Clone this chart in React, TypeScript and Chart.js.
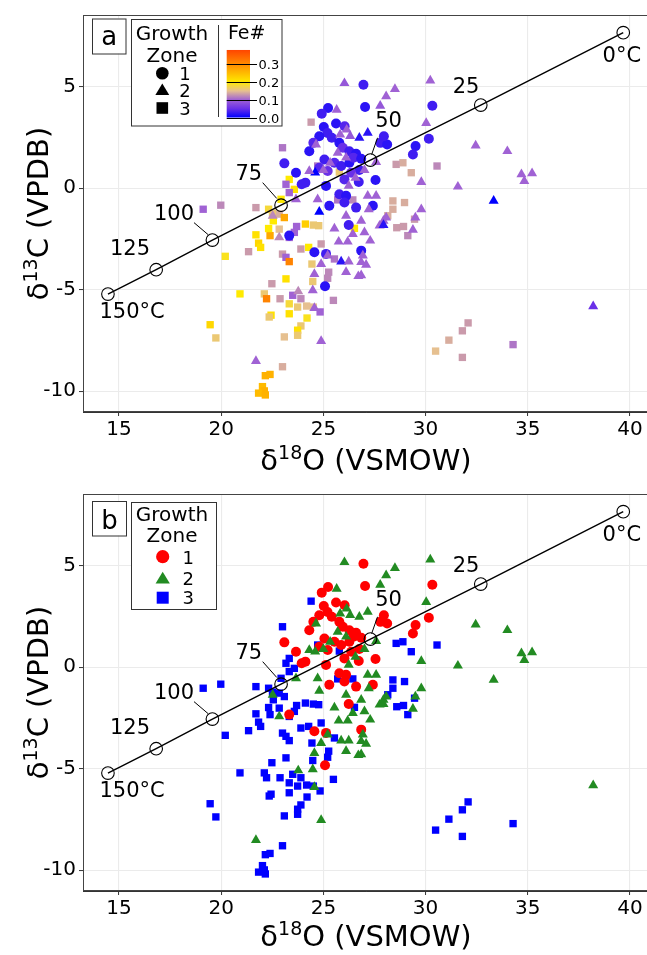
import React, { useEffect, useRef } from 'react';
import { Chart, registerables } from 'chart.js';
Chart.register(...registerables);

// ---------- axes ----------
const xTickValues = [15, 20, 25, 30, 35, 40];
const xTickLabels = ['15', '20', '25', '30', '35', '40'];
const yTickValues = [-10, -5, 0, 5];
const yTickLabels = ['-10', '-5', '0', '5'];
const X_MIN = 13.24, X_MAX = 40.93, Y_MIN = -11.03, Y_MAX = 8.53;

// ---------- equilibrium temperature line ----------
const tempX = [39.67, 32.7, 27.3, 22.93, 19.57, 16.82, 14.46];
const tempY = [7.66, 4.09, 1.38, -0.84, -2.56, -4.02, -5.22];
const tempLabels = ['0°C', '25', '50', '75', '100', '125', '150°C'];
const tempLabelX = [39.6, 31.98, 28.19, 21.35, 17.69, 15.54, 15.64];
const tempLabelY = [6.5, 4.96, 3.29, 0.68, -1.29, -3.04, -6.13];

// ---------- Growth zone 1 (circles) ----------
const zone1X = [26.96, 27.04, 30.33, 25.23, 24.92, 25.62, 26.04, 25.02, 25.2, 24.8, 24.51, 25.41, 25.78, 25.95, 26.27, 26.6, 27.79, 28.12, 27.96, 29.51, 29.38, 24.31, 23.09, 23.66, 24.12, 24.8, 25.05, 25.21, 25.13, 25.54, 25.87, 26.27, 26.47, 26.85, 26.76, 26.36, 26.73, 27.55, 26.03, 25.78, 26.11, 26.03, 25.29, 26.6, 27.42, 26.24, 23.33, 24.56, 25.13, 26.85, 25.08, 30.16, 23.94];
const zone1Y = [5.09, 4.0, 4.06, 3.95, 3.67, 3.18, 3.05, 3.01, 2.72, 2.56, 2.23, 2.48, 2.23, 1.99, 1.82, 1.69, 2.23, 2.15, 2.56, 2.07, 1.66, 1.82, 1.22, 0.76, 0.27, 1.0, 1.41, 0.84, 0.11, 1.25, 1.09, 1.25, 1.5, 1.45, 0.89, 0.76, 0.3, 0.4, 0.43, -0.3, -0.38, -0.71, -0.87, -0.96, -0.87, -1.82, -2.34, -3.16, -3.24, -3.08, -4.83, 2.43, 0.19];
const zone1Fe = [0.03, 0.02, 0.03, 0.02, 0.03, 0.02, 0.04, 0.02, 0.03, 0.02, 0.04, 0.03, 0.02, 0.05, 0.03, 0.02, 0.03, 0.02, 0.03, 0.02, 0.03, 0.02, 0.03, 0.02, 0.03, 0.04, 0.03, 0.05, 0.02, 0.04, 0.03, 0.02, 0.04, 0.02, 0.03, 0.05, 0.03, 0.02, 0.04, 0.03, 0.02, 0.03, 0.02, 0.03, 0.02, 0.03, 0.02, 0.02, 0.03, 0.02, 0.02, 0.03, 0.03];

// ---------- Growth zone 2 (triangles) ----------
const zone2X = [26.03, 28.5, 28.07, 27.78, 25.65, 30.03, 30.23, 26.14, 25.82, 26.31, 26.76, 27.17, 24.64, 25.7, 26.11, 25.33, 24.6, 24.31, 26.57, 27.01, 27.58, 29.79, 23.66, 24.72, 26.24, 27.17, 27.22, 28.07, 29.79, 29.5, 22.52, 22.84, 24.8, 25.54, 26.11, 26.85, 26.44, 25.75, 26.19, 27.29, 27.01, 24.89, 25.21, 25.87, 26.24, 26.85, 27.09, 26.11, 26.71, 24.56, 24.48, 23.77, 24.56, 24.89, 27.75, 21.7, 32.45, 34.0, 34.69, 35.21, 34.83, 31.58, 33.33, 27.58, 29.38, 27.94, 27.94, 26.93, 26.85, 38.2, 25.0];
const zone2Y = [5.17, 4.88, 4.52, 4.06, 3.86, 3.21, 5.3, 2.88, 2.64, 2.56, 2.48, 2.72, 2.15, 1.74, 1.5, 1.25, 0.76, 0.84, 0.51, 0.89, 1.28, 0.3, -0.55, -0.55, 0.11, -0.38, -1.04, -1.45, -1.04, -1.45, -1.36, -2.43, -1.17, -1.99, -1.36, -1.61, -2.26, -2.64, -2.64, -2.59, -2.18, -3.74, -3.32, -3.62, -3.62, -3.65, -3.78, -4.14, -4.34, -4.23, -5.04, -5.09, -5.91, -7.54, -1.85, -8.52, 2.1, 1.82, 0.68, 0.73, 0.35, 0.07, -0.63, -0.38, -2.05, -1.61, -1.82, -3.32, -4.3, -5.82, 0.89];
const zone2Fe = [0.09, 0.1, 0.1, 0.09, 0.1, 0.1, 0.1, 0.1, 0.1, 0.09, 0.02, 0.02, 0.1, 0.1, 0.1, 0.1, 0.0, 0.1, 0.1, 0.1, 0.1, 0.1, 0.1, 0.1, 0.1, 0.1, 0.1, 0.1, 0.1, 0.1, 0.12, 0.12, 0.0, 0.1, 0.1, 0.1, 0.1, 0.1, 0.1, 0.1, 0.1, 0.1, 0.1, 0.02, 0.1, 0.1, 0.1, 0.1, 0.1, 0.1, 0.1, 0.12, 0.1, 0.1, 0.1, 0.1, 0.1, 0.1, 0.1, 0.1, 0.1, 0.1, 0.0, 0.1, 0.1, 0.1, 0.02, 0.1, 0.1, 0.05, 0.1];

// ---------- Growth zone 3 (squares) ----------
const zone3X = [24.4, 23.0, 28.89, 28.56, 29.3, 30.56, 24.72, 25.78, 23.33, 23.17, 23.58, 23.33, 22.93, 21.7, 22.32, 22.84, 23.09, 25.7, 26.44, 28.4, 28.97, 28.4, 19.12, 19.98, 22.55, 22.39, 21.7, 22.32, 22.84, 23.33, 23.58, 23.69, 24.12, 24.51, 24.77, 21.83, 21.93, 21.34, 20.2, 23.0, 23.17, 23.33, 23.9, 24.28, 24.89, 24.44, 25.54, 25.26, 25.21, 24.48, 23.17, 22.48, 20.92, 22.11, 22.22, 22.88, 23.5, 23.9, 23.33, 23.74, 24.18, 25.49, 24.84, 23.33, 22.44, 22.35, 24.2, 23.9, 23.74, 23.74, 23.09, 19.46, 19.74, 23.0, 22.16, 22.39, 22.02, 22.11, 21.83, 22.16, 32.08, 31.8, 31.14, 30.49, 31.8, 34.28, 28.59, 28.92, 29.13, 29.46, 28.15, 26.52, 24.51, 22.51];
const zone3Y = [3.25, 1.99, 1.25, 1.17, 0.76, 1.09, 1.09, 0.79, 0.43, 0.19, -0.06, -0.22, -0.55, -0.96, -1.04, -1.28, -1.45, -0.58, -0.58, -0.63, -0.71, -1.04, -1.04, -0.84, -1.61, -2.34, -2.3, -1.99, -2.02, -2.43, -2.18, -1.89, -1.77, -1.82, -1.85, -2.71, -2.92, -3.13, -3.36, -3.25, -3.41, -3.62, -3.0, -2.92, -2.75, -3.74, -3.49, -4.14, -4.44, -4.6, -4.47, -4.71, -5.21, -5.21, -5.45, -5.45, -5.28, -5.45, -5.7, -5.86, -5.81, -5.53, -6.1, -6.19, -6.26, -6.35, -6.4, -6.79, -7.0, -7.25, -7.33, -6.73, -7.38, -8.8, -9.24, -9.18, -9.78, -9.99, -10.1, -10.19, -6.64, -7.03, -7.49, -8.03, -8.34, -7.71, -1.95, -1.89, -2.34, -1.53, -1.36, -1.98, -5.86, -1.23];
const zone3Fe = [0.13, 0.11, 0.14, 0.13, 0.14, 0.12, 0.11, 0.16, 0.2, 0.1, 0.21, 0.1, 0.2, 0.13, 0.18, 0.14, 0.27, 0.11, 0.12, 0.14, 0.14, 0.14, 0.1, 0.12, 0.2, 0.27, 0.21, 0.2, 0.15, 0.1, 0.1, 0.1, 0.23, 0.16, 0.16, 0.22, 0.21, 0.13, 0.19, 0.13, 0.1, 0.31, 0.13, 0.2, 0.13, 0.16, 0.11, 0.12, 0.12, 0.16, 0.21, 0.13, 0.2, 0.16, 0.31, 0.13, 0.1, 0.12, 0.18, 0.16, 0.15, 0.12, 0.1, 0.21, 0.21, 0.16, 0.19, 0.16, 0.21, 0.16, 0.15, 0.22, 0.16, 0.14, 0.26, 0.26, 0.25, 0.26, 0.25, 0.26, 0.13, 0.13, 0.14, 0.15, 0.13, 0.11, 0.13, 0.13, 0.12, 0.13, 0.14, 0.2, 0.15, 0.16];

// ---------- colour scale for Fe# ----------
const feStops = [0, 0.05, 0.1, 0.15, 0.2, 0.3, 0.38];
const feStopColors = ['#0000FF', '#6A30E8', '#A062D4', '#E6C090', '#FFEA00', '#FF8C00', '#FF4500'];
const feBarTicks = [0.0, 0.1, 0.2, 0.3];
const feBarLabels = ['0.0', '0.1', '0.2', '0.3'];

const zoneColors = ['#FF0000', '#228B22', '#0000FF'];
const FONT = '"DejaVu Sans", Verdana, sans-serif';

function hexToRgb(h: string) {
  return [parseInt(h.slice(1, 3), 16), parseInt(h.slice(3, 5), 16), parseInt(h.slice(5, 7), 16)];
}
function feColor(v: number) {
  if (v <= feStops[0]) return feStopColors[0];
  for (let i = 1; i < feStops.length; i++) {
    if (v <= feStops[i]) {
      const t = (v - feStops[i - 1]) / (feStops[i] - feStops[i - 1]);
      const a = hexToRgb(feStopColors[i - 1]);
      const b = hexToRgb(feStopColors[i]);
      const c = a.map((av, k) => Math.round(av + (b[k] - av) * t));
      return `rgb(${c[0]},${c[1]},${c[2]})`;
    }
  }
  return feStopColors[feStopColors.length - 1];
}

type Part = { t: string; size: number; dy: number };
function drawRich(ctx: CanvasRenderingContext2D, parts: Part[], cx: number, baseY: number) {
  let total = 0;
  const widths = parts.map((p) => {
    ctx.font = `${p.size}px ${FONT}`;
    const w = ctx.measureText(p.t).width;
    total += w;
    return w;
  });
  let x = cx - total / 2;
  ctx.textAlign = 'left';
  ctx.textBaseline = 'alphabetic';
  parts.forEach((p, i) => {
    ctx.font = `${p.size}px ${FONT}`;
    ctx.fillText(p.t, x, baseY + p.dy);
    x += widths[i];
  });
}

function drawShape(ctx: CanvasRenderingContext2D, shape: string, x: number, y: number, s: number) {
  ctx.beginPath();
  if (shape === 'circle') {
    ctx.arc(x, y, s, 0, Math.PI * 2);
  } else if (shape === 'triangle') {
    const h = s * 1.75;
    ctx.moveTo(x, y - h * 0.6);
    ctx.lineTo(x + s * 1.05, y + h * 0.4);
    ctx.lineTo(x - s * 1.05, y + h * 0.4);
    ctx.closePath();
  } else {
    ctx.rect(x - s, y - s, 2 * s, 2 * s);
  }
  ctx.fill();
}

const CW = 660;
const PLOT_TOP = 13;
const PLOT_H = 399;
const PLOT_LEFT = 83;
const PLOT_RIGHT = 649;

function buildChart(canvas: HTMLCanvasElement, mode: 'a' | 'b', height: number) {
  const isA = mode === 'a';
  const pts = (xs: number[], ys: number[]) => xs.map((x, i) => ({ x, y: ys[i] }));

  const overlay = {
    id: 'overlay' + mode,
    afterDraw(chart: any) {
      const { ctx, chartArea: ca, scales } = chart;
      const xs = scales.x, ys = scales.y;
      ctx.save();
      // panel border
      ctx.strokeStyle = '#444';
      ctx.lineWidth = 1;
      ctx.strokeRect(ca.left + 0.5, ca.top + 0.5, ca.right - ca.left - 1, ca.bottom - ca.top - 1);

      // temperature labels
      ctx.fillStyle = '#000';
      ctx.font = `21px ${FONT}`;
      ctx.textAlign = 'center';
      ctx.textBaseline = 'middle';
      tempLabels.forEach((t, i) => {
        ctx.fillText(t, xs.getPixelForValue(tempLabelX[i]), ys.getPixelForValue(tempLabelY[i]));
      });
      // leader lines (50, 75, 100)
      const leaders = [
        [27.65, 2.48, 27.36, 1.65],
        [22.03, 0.27, 22.72, -0.51],
        [18.67, -1.7, 19.37, -2.3],
      ];
      ctx.strokeStyle = '#000';
      ctx.lineWidth = 1;
      leaders.forEach((l) => {
        ctx.beginPath();
        ctx.moveTo(xs.getPixelForValue(l[0]), ys.getPixelForValue(l[1]));
        ctx.lineTo(xs.getPixelForValue(l[2]), ys.getPixelForValue(l[3]));
        ctx.stroke();
      });

      // axis titles
      ctx.fillStyle = '#000';
      const midX = (ca.left + ca.right) / 2;
      drawRich(ctx, [
        { t: 'δ', size: 29, dy: 0 },
        { t: '18', size: 19, dy: -11 },
        { t: 'O (VSMOW)', size: 29, dy: 0 },
      ], midX, height - 9);
      ctx.save();
      ctx.translate(48, (ca.top + ca.bottom) / 2);
      ctx.rotate(-Math.PI / 2);
      drawRich(ctx, [
        { t: 'δ', size: 29, dy: 0 },
        { t: '13', size: 19, dy: -11 },
        { t: 'C (VPDB)', size: 29, dy: 0 },
      ], 0, 0);
      ctx.restore();

      // panel letter box
      const lb = isA ? { x: 92, y: 18.5, w: 33.5, h: 35, base: 45 } : { x: 92, y: 22, w: 34, h: 34.5, base: 50.3 };
      ctx.fillStyle = '#fff';
      ctx.fillRect(lb.x, lb.y, lb.w, lb.h);
      ctx.strokeStyle = '#333';
      ctx.strokeRect(lb.x + 0.5, lb.y + 0.5, lb.w, lb.h);
      ctx.fillStyle = '#000';
      ctx.font = `26px ${FONT}`;
      ctx.textAlign = 'center';
      ctx.textBaseline = 'alphabetic';
      ctx.fillText(mode, lb.x + lb.w / 2 + 0.5, lb.base);

      // legend
      if (isA) {
        ctx.fillStyle = '#fff';
        ctx.fillRect(131, 19.5, 151, 106.5);
        ctx.strokeStyle = '#333';
        ctx.strokeRect(131.5, 19.5, 150.5, 106.5);
        ctx.fillStyle = '#000';
        ctx.font = `20px ${FONT}`;
        ctx.textAlign = 'center';
        ctx.fillText('Growth', 172, 39.5);
        ctx.fillText('Zone', 172, 61.7);
        drawShape(ctx, 'circle', 162.3, 73.3, 6.3);
        drawShape(ctx, 'triangle', 162.3, 90.5, 6.6);
        drawShape(ctx, 'rect', 162.3, 108, 5.8);
        ctx.font = `18px ${FONT}`;
        ['1', '2', '3'].forEach((t, i) => ctx.fillText(t, 185, [80, 97.3, 115][i]));
        // separator
        ctx.strokeStyle = '#333';
        ctx.beginPath();
        ctx.moveTo(218.5, 25);
        ctx.lineTo(218.5, 117);
        ctx.stroke();
        ctx.font = `19px ${FONT}`;
        ctx.fillText('Fe#', 246.7, 38.5);
        // colour bar
        const barL = 226.7, barW = 23.3, bar0 = 117.5, pxPer = 177.7;
        const topVal = feStops[feStops.length - 1];
        const barTop = bar0 - topVal * pxPer;
        const g = ctx.createLinearGradient(0, bar0, 0, barTop);
        feStops.forEach((s, i) => g.addColorStop(s / topVal, feStopColors[i]));
        ctx.fillStyle = g;
        ctx.fillRect(barL, barTop, barW, bar0 - barTop);
        ctx.strokeStyle = '#000';
        ctx.fillStyle = '#000';
        ctx.font = `13px ${FONT}`;
        ctx.textAlign = 'left';
        ctx.textBaseline = 'middle';
        feBarTicks.forEach((v, i) => {
          const yy = Math.round(bar0 - v * pxPer) + 0.5;
          ctx.beginPath();
          ctx.moveTo(barL, yy);
          ctx.lineTo(257, yy);
          ctx.stroke();
          ctx.fillText(feBarLabels[i], 258.5, yy + 1);
        });
      } else {
        ctx.fillStyle = '#fff';
        ctx.fillRect(131, 23, 85, 107);
        ctx.strokeStyle = '#333';
        ctx.strokeRect(131.5, 23.5, 85, 107);
        ctx.fillStyle = '#000';
        ctx.font = `20px ${FONT}`;
        ctx.textAlign = 'center';
        ctx.textBaseline = 'alphabetic';
        ctx.fillText('Growth', 172, 41.7);
        ctx.fillText('Zone', 172, 63.3);
        ctx.fillStyle = zoneColors[0];
        drawShape(ctx, 'circle', 162.7, 77.7, 6.6);
        ctx.fillStyle = zoneColors[1];
        drawShape(ctx, 'triangle', 162.7, 99.8, 6.8);
        ctx.fillStyle = zoneColors[2];
        drawShape(ctx, 'rect', 162.7, 118.7, 6);
        ctx.fillStyle = '#000';
        ctx.font = `18px ${FONT}`;
        ['1', '2', '3'].forEach((t, i) => ctx.fillText(t, 188.3, [85, 106, 125.3][i]));
      }
      ctx.restore();
    },
  };

  const gridOpts = { color: '#EBEBEB', lineWidth: 1.1, tickColor: '#333', tickLength: 4, tickWidth: 1 };

  return new Chart(canvas, {
    type: 'scatter',
    data: {
      datasets: [
        {
          label: 'T',
          data: pts(tempX, tempY),
          showLine: true,
          borderColor: '#000',
          borderWidth: 1.4,
          pointRadius: 6.3,
          pointStyle: 'circle',
          pointBackgroundColor: 'rgba(0,0,0,0)',
          pointBorderColor: '#000',
          pointBorderWidth: 1.1,
        } as any,
        {
          label: '2',
          data: pts(zone2X, zone2Y),
          pointStyle: 'triangle',
          pointRadius: 5.8,
          pointBorderWidth: 0,
          pointBackgroundColor: isA ? zone2Fe.map(feColor) : zoneColors[1],
        },
        {
          label: '1',
          data: pts(zone1X, zone1Y),
          pointStyle: 'circle',
          pointRadius: 5,
          pointBorderWidth: 0,
          pointBackgroundColor: isA ? zone1Fe.map(feColor) : zoneColors[0],
        },
        {
          label: '3',
          data: pts(zone3X, zone3Y),
          pointStyle: 'rect',
          pointRadius: 5.2,
          pointBorderWidth: 0,
          pointBackgroundColor: isA ? zone3Fe.map(feColor) : zoneColors[2],
        },
      ],
    },
    options: {
      animation: false,
      responsive: false,
      maintainAspectRatio: false,
      events: [],
      layout: { padding: { left: 0, top: PLOT_TOP, right: CW - PLOT_RIGHT, bottom: 0 } },
      plugins: { legend: { display: false }, tooltip: { enabled: false } },
      scales: {
        x: {
          type: 'linear',
          min: X_MIN,
          max: X_MAX,
          afterBuildTicks: (s: any) => { s.ticks = xTickValues.map((v) => ({ value: v })); },
          afterFit: (s: any) => { s.height = height - PLOT_TOP - PLOT_H; },
          grid: gridOpts,
          border: { display: true, color: '#333', width: 1 },
          ticks: {
            color: '#000',
            font: { family: FONT, size: 20 },
            padding: 2,
            maxRotation: 0,
            autoSkip: false,
            callback: (_v: any, i: number) => xTickLabels[i],
          },
        },
        y: {
          type: 'linear',
          min: Y_MIN,
          max: Y_MAX,
          afterBuildTicks: (s: any) => { s.ticks = yTickValues.map((v) => ({ value: v })); },
          afterFit: (s: any) => { s.width = PLOT_LEFT; },
          grid: gridOpts,
          border: { display: true, color: '#333', width: 1 },
          ticks: {
            color: '#000',
            font: { family: FONT, size: 20 },
            padding: 3,
            autoSkip: false,
            callback: (_v: any, i: number) => yTickLabels[i],
          },
        },
      },
    },
    plugins: [overlay],
  } as any);
}

export default function App() {
  const refA = useRef<HTMLCanvasElement>(null);
  const refB = useRef<HTMLCanvasElement>(null);
  useEffect(() => {
    const a = buildChart(refA.current!, 'a', 479);
    const b = buildChart(refB.current!, 'b', 476);
    return () => {
      a.destroy();
      b.destroy();
    };
  }, []);
  return (
    <div style={{ position: 'absolute', left: 0, top: 0, width: 647, height: 955, overflow: 'hidden', background: '#fff' }}>
      <canvas ref={refA} width={CW} height={479} style={{ position: 'absolute', left: 0, top: 0, width: CW, height: 479 }} />
      <canvas ref={refB} width={CW} height={476} style={{ position: 'absolute', left: 0, top: 479, width: CW, height: 476 }} />
    </div>
  );
}
